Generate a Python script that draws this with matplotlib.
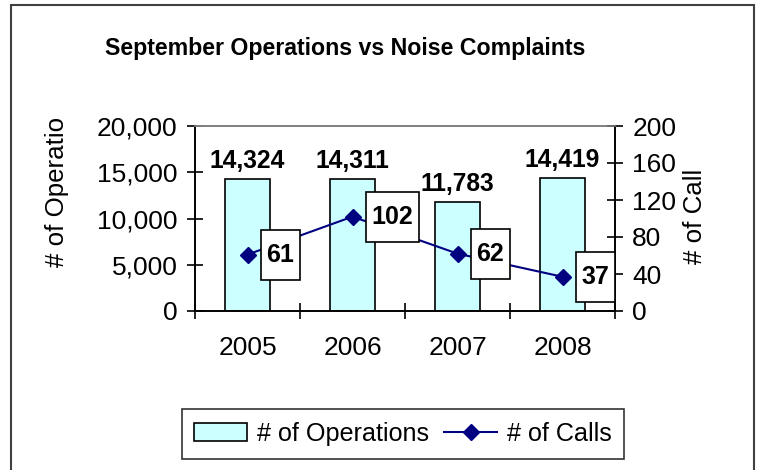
import numpy as np
import matplotlib
matplotlib.use("Agg")
import matplotlib.pyplot as plt
import matplotlib.transforms as mtransforms
from matplotlib.patches import Rectangle
from matplotlib.lines import Line2D

plt.rcParams['font.family'] = ['Liberation Sans', 'DejaVu Sans']

# data
years = ['2005', '2006', '2007', '2008']
operations = [14324, 14311, 11783, 14419]
calls = [61, 102, 62, 37]

fig = plt.figure(figsize=(7.61, 4.70), dpi=100)
ax = fig.add_axes([195 / 761, 1 - 311 / 470, 420 / 761, 185 / 470])
ax2 = ax.twinx()

x = np.arange(len(years))

# bars
bars = ax.bar(x, operations, width=0.43, color='#CCFFFF', edgecolor='black',
              linewidth=1.2, label='# of Operations', zorder=2)
for xi, v in zip(x, operations):
    ax.annotate(f"{v:,}", (xi, v), xytext=(0, 4), textcoords='offset points',
                ha='center', va='bottom', fontsize=17.7, fontweight='bold')

ax.set_xlim(-0.5, len(years) - 0.5)
ax.set_ylim(0, 20000)
ax.set_yticks(np.arange(0, 20001, 5000))
ax.set_yticklabels([f"{t:,}" for t in range(0, 20001, 5000)])
ax.set_xticks(x)
ax.set_xticklabels(years)
ax.set_xticks(np.arange(-0.5, len(years), 1), minor=True)
ax.tick_params(axis='x', which='major', length=0, pad=18, labelsize=19)
ax.tick_params(axis='x', which='minor', direction='inout', length=11, width=1.2)
ax.tick_params(axis='y', direction='inout', length=11, width=1.2, pad=7, labelsize=19)
ax.set_ylabel('# of Operatio', fontsize=18.6)
ax.yaxis.label.set_va('center')
ax.yaxis.set_label_coords(57 / 761, 1 - 192 / 470, transform=fig.transFigure)

# line
ax2.plot(x, calls, color='#000080', lw=1.5, marker='D', markersize=8,
         label='# of Calls', zorder=3)
ax2.set_ylim(0, 200)
ax2.set_yticks(np.arange(0, 201, 40))
ax2.tick_params(axis='y', direction='inout', length=11, width=1.2, pad=7, labelsize=19)
ax2.set_ylabel('# of Call', fontsize=18.6)
ax2.yaxis.label.set_va('center')
ax2.yaxis.set_label_coords(695 / 761, 1 - 216 / 470, transform=fig.transFigure)

# call labels in boxes
for xi, v in zip(x, calls):
    tr = fig.dpi_scale_trans + mtransforms.ScaledTranslation(xi, v, ax2.transData)
    w = (len(str(v)) * 14 + 11) / 100
    h = 0.50
    dx = 0.13
    ax2.add_patch(Rectangle((dx, -h / 2), w, h, transform=tr, facecolor='white',
                            edgecolor='black', lw=1.2, zorder=4, clip_on=False))
    ax2.text(dx + w / 2, 0, str(v), transform=tr, ha='center', va='center',
             fontsize=18, fontweight='bold', zorder=5)

for a in (ax, ax2):
    for s in ('left', 'right', 'bottom'):
        a.spines[s].set_color('black')
        a.spines[s].set_linewidth(1.2)
    a.spines['top'].set_color('#808080')
    a.spines['top'].set_linewidth(1.2)

fig.suptitle('September Operations vs Noise Complaints', x=345 / 761, y=1 - 48 / 470,
             va='center', fontsize=16.7, fontweight='bold')

handles = [bars, Line2D([], [], color='#000080', lw=1.5, marker='D', markersize=8)]
leg = fig.legend(handles, ['# of Operations', '# of Calls'], loc='center',
                 bbox_to_anchor=(403 / 761, 1 - 434 / 470), ncol=2, fontsize=18.1,
                 frameon=True, fancybox=False, edgecolor='black', handlelength=2.1,
                 handletextpad=0.4, columnspacing=0.6, borderpad=0.5)
leg.get_frame().set_linewidth(1.2)

# outer chart border
fig.patches.append(Rectangle((11 / 761, -0.05), 743 / 761, 1.05 - 5 / 470,
                             transform=fig.transFigure, fill=False,
                             edgecolor='#404040', lw=1.5))

fig.savefig('out.png', dpi=100)
